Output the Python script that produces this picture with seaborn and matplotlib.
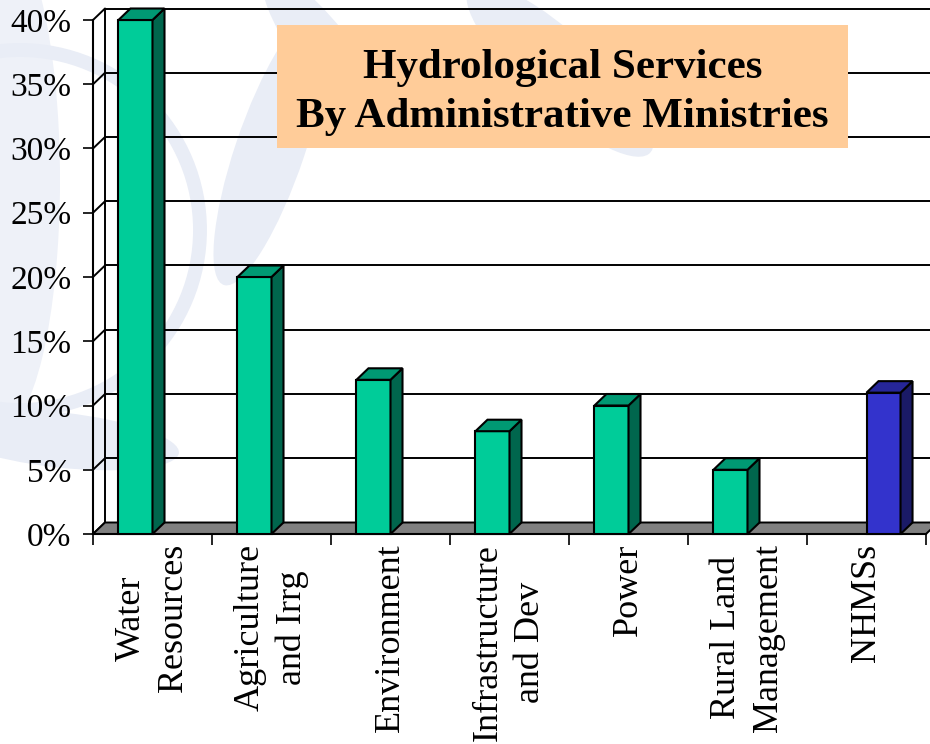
import numpy as np
import pandas as pd
import matplotlib
matplotlib.use("Agg")
import matplotlib.pyplot as plt
import seaborn as sns
from matplotlib.patches import Polygon, Rectangle, Ellipse
from matplotlib.colors import to_rgb

# ---------------- data ----------------
categories = ["Water\nResources", "Agriculture\nand Irrg", "Environment",
              "Infrastructure\nand Dev", "Power", "Rural Land\nManagement", "NHMSs"]
values = [40, 20, 12, 8, 10, 5, 11]
groups = ["Ministry", "Ministry", "Ministry", "Ministry", "Ministry", "Ministry", "NHMS"]
group_order = ["Ministry", "NHMS"]
group_colors = ["#00CC99", "#3333CC"]
yticks = [0, 5, 10, 15, 20, 25, 30, 35, 40]
ytick_labels = ["0%", "5%", "10%", "15%", "20%", "25%", "30%", "35%", "40%"]
title_lines = ["Hydrological Services", "By Administrative Ministries"]

df = pd.DataFrame({"Ministry": categories, "Share": values, "Group": groups})

# ---------------- style ----------------
sns.set_theme(style="white")
plt.rcParams["font.family"] = ["Liberation Serif", "DejaVu Serif"]

W, H = 930, 744
fig = plt.figure(figsize=(W / 100, H / 100), dpi=100)
fig.patch.set_facecolor("white")

# faint watermark (emblem hint)
wm = "#E9EDF6"
fig.add_artist(Ellipse((20 / W, 1 - 230 / H), 360 / W, 360 / H, transform=fig.transFigure,
                       facecolor="none", edgecolor=wm, lw=10, zorder=-5))
fig.add_artist(Ellipse((0 / W, 1 - 180 / H), 120 / W, 500 / H, transform=fig.transFigure,
                       facecolor="#EEF1F8", edgecolor="none", zorder=-6))
for (cx, cy, w, h, ang) in [(270, 150, 70, 280, -15), (330, 60, 60, 200, 30),
                            (560, 70, 80, 220, 40), (60, 440, 240, 55, -8)]:
    fig.add_artist(Ellipse((cx / W, 1 - cy / H), w / W, h / H, angle=ang,
                           transform=fig.transFigure, facecolor=wm, edgecolor="none", zorder=-5))

ax = fig.add_axes([93 / W, (H - 534) / H, 833 / W, 514 / H])
ax.set_facecolor("none")

sns.barplot(data=df, x="Ministry", y="Share", hue="Group", order=categories,
            hue_order=group_order, palette=dict(zip(group_order, group_colors)),
            width=0.572, dodge=True, saturation=1, edgecolor="black", linewidth=1.5,
            legend=False, ax=ax, zorder=5)

ax.set_xlim(-0.5, len(categories) - 0.5)
ax.set_ylim(0, 40)

DX = 12 / 119.0
DY = 11.5 / 12.85
x0a, x1a = -0.5, len(categories) - 0.5

# back wall gridlines and left wall
for y in yticks:
    ax.plot([x0a + DX, x1a + DX], [y + DY, y + DY], color="black", lw=1.4, zorder=1, clip_on=False)
    ax.plot([x0a, x0a + DX], [y, y + DY], color="black", lw=1.4, zorder=1, clip_on=False)
ax.plot([x0a + DX, x0a + DX], [DY, 40 + DY], color="black", lw=1.4, zorder=1, clip_on=False)

# floor
floor = Polygon([(x0a, 0), (x1a, 0), (x1a + DX, DY), (x0a + DX, DY)], closed=True,
                facecolor="#808080", edgecolor="black", lw=1.4, zorder=2, clip_on=False)
ax.add_patch(floor)

# 3D faces for bars
for p in list(ax.patches):
    if not isinstance(p, Rectangle) or p is floor:
        continue
    h = p.get_height()
    if h is None or not np.isfinite(h) or h <= 0:
        continue
    p.set_clip_on(False)
    bx, bw = p.get_x(), p.get_width()
    fc = np.array(to_rgb(p.get_facecolor()))
    side = Polygon([(bx + bw, 0), (bx + bw + DX, DY), (bx + bw + DX, h + DY), (bx + bw, h)],
                   closed=True, facecolor=fc * 0.5, edgecolor="black", lw=1.5, zorder=5,
                   clip_on=False)
    top = Polygon([(bx, h), (bx + DX, h + DY), (bx + bw + DX, h + DY), (bx + bw, h)],
                  closed=True, facecolor=fc * 0.75, edgecolor="black", lw=1.5, zorder=5,
                  clip_on=False)
    ax.add_patch(side)
    ax.add_patch(top)

# spines / ticks
for s in ["top", "right"]:
    ax.spines[s].set_visible(False)
for s in ["left", "bottom"]:
    ax.spines[s].set_color("black")
    ax.spines[s].set_linewidth(1.5)
    ax.spines[s].set_zorder(3)

ax.set_yticks(yticks)
ax.set_yticklabels(ytick_labels, fontsize=24, color="black")
ax.tick_params(axis="y", left=True, length=7.5, width=1.2, direction="out", pad=8, color="black")

ax.set_xticks(range(len(categories)))
ax.set_xticklabels(categories, fontsize=26, rotation=90, ha="center", va="top",
                   multialignment="center", linespacing=1.35, color="black")
ax.set_xticks(np.arange(-0.5, len(categories), 1), minor=True)
ax.tick_params(axis="x", which="major", bottom=True, length=0, pad=7)
ax.tick_params(axis="x", which="minor", bottom=True, length=8, width=1.2, direction="out", color="black")
ax.set_xlabel("")
ax.set_ylabel("")
ax.grid(False)

# title box
box = Rectangle((277 / W, 1 - 148 / H), 571 / W, 123 / H, transform=fig.transFigure,
                facecolor="#FFCC99", edgecolor="none", zorder=20)
fig.add_artist(box)
fig.text(562.5 / W, 1 - 78 / H, title_lines[0], ha="center", va="baseline",
         fontsize=31, fontweight="bold", color="black", zorder=21)
fig.text(562.5 / W, 1 - 127 / H, title_lines[1], ha="center", va="baseline",
         fontsize=31, fontweight="bold", color="black", zorder=21)

fig.savefig("out.png", dpi=100)
